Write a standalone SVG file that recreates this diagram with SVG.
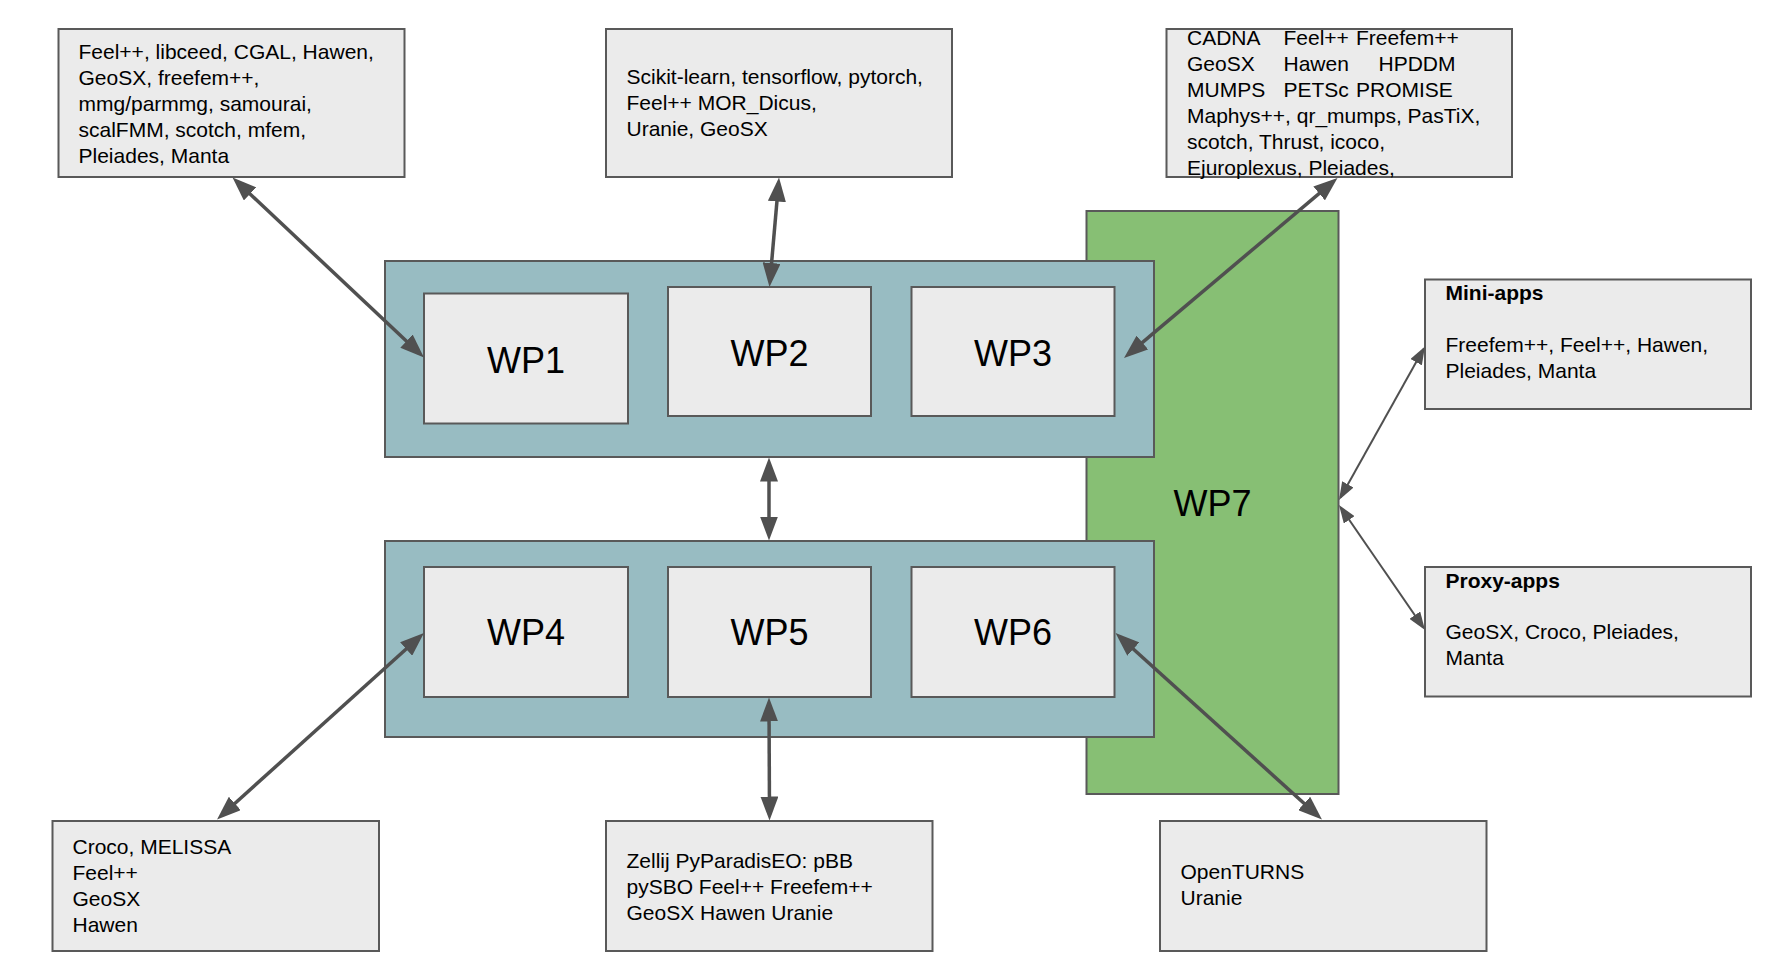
<svg xmlns="http://www.w3.org/2000/svg" width="1790" height="975" viewBox="0 0 1790 975">
<defs>
<style>
.box{fill:#ebebeb;stroke:#595959;stroke-width:2}
.cont{fill:#98bcc2;stroke:#595959;stroke-width:2}
.green{fill:#87bf74;stroke:#595959;stroke-width:2}
.t{font-family:"Liberation Sans",Arial,sans-serif;font-size:21px;fill:#000}
.b{font-weight:bold}
.wp{font-family:"Liberation Sans",Arial,sans-serif;font-size:36px;fill:#000;text-anchor:middle}
.thick{stroke:#505050;stroke-width:3.5;fill:none;marker-start:url(#ah);marker-end:url(#ah)}
.thin{stroke:#505050;stroke-width:2;fill:none;marker-start:url(#as);marker-end:url(#as)}
</style>
<marker id="ah" viewBox="0 0 24 18" markerWidth="24" markerHeight="18" refX="18" refY="9" markerUnits="userSpaceOnUse" orient="auto-start-reverse">
<path d="M0,0 L24,9 L0,18 z" fill="#505050"/>
</marker>
<marker id="as" viewBox="0 0 18 13" markerWidth="18" markerHeight="13" refX="15" refY="6.5" markerUnits="userSpaceOnUse" orient="auto-start-reverse">
<path d="M0,0 L18,6.5 L0,13 z" fill="#505050"/>
</marker>
</defs>
<rect width="1790" height="975" fill="#ffffff"/>

<g id="wp7">
<rect class="green" x="1086.5" y="211" width="252" height="583"/>
<text class="wp" x="1212.5" y="515.5">WP7</text>
</g>

<g id="group-top">
<rect class="cont" x="385" y="261" width="769" height="196"/>
</g>
<g id="wp1">
<rect class="box" x="424" y="293.5" width="204" height="130"/>
<text class="wp" x="526" y="372.5">WP1</text>
</g>
<g id="wp2">
<rect class="box" x="668" y="287" width="203" height="129"/>
<text class="wp" x="769.5" y="365.5">WP2</text>
</g>
<g id="wp3">
<rect class="box" x="911.5" y="287" width="203" height="129"/>
<text class="wp" x="1013" y="365.5">WP3</text>
</g>

<g id="group-bottom">
<rect class="cont" x="385" y="541" width="769" height="196"/>
</g>
<g id="wp4">
<rect class="box" x="424" y="567" width="204" height="130"/>
<text class="wp" x="526" y="645">WP4</text>
</g>
<g id="wp5">
<rect class="box" x="668" y="567" width="203" height="130"/>
<text class="wp" x="769.5" y="645">WP5</text>
</g>
<g id="wp6">
<rect class="box" x="911.5" y="567" width="203" height="130"/>
<text class="wp" x="1013" y="645">WP6</text>
</g>

<g id="libs-wp1">
<rect class="box" x="58.5" y="29" width="346" height="148"/>
<text class="t" x="78.5" y="58.5">Feel++, libceed, CGAL, Hawen,</text>
<text class="t" x="78.5" y="84.5">GeoSX, freefem++,</text>
<text class="t" x="78.5" y="110.5">mmg/parmmg, samourai,</text>
<text class="t" x="78.5" y="136.5">scalFMM, scotch, mfem,</text>
<text class="t" x="78.5" y="162.5">Pleiades, Manta</text>
</g>

<g id="libs-wp2">
<rect class="box" x="606" y="29" width="346" height="148"/>
<text class="t" x="626.5" y="83.5">Scikit-learn, tensorflow, pytorch,</text>
<text class="t" x="626.5" y="109.5">Feel++ MOR_Dicus,</text>
<text class="t" x="626.5" y="135.5">Uranie, GeoSX</text>
</g>

<g id="libs-wp3">
<rect class="box" x="1166.5" y="29" width="345.5" height="148"/>
<text class="t" y="44.5"><tspan x="1187">CADNA</tspan><tspan x="1283.5">Feel++</tspan><tspan x="1356">Freefem++</tspan></text>
<text class="t" y="70.5"><tspan x="1187">GeoSX</tspan><tspan x="1283.5">Hawen</tspan><tspan x="1378.5">HPDDM</tspan></text>
<text class="t" y="96.5"><tspan x="1187">MUMPS</tspan><tspan x="1283.5">PETSc</tspan><tspan x="1356">PROMISE</tspan></text>
<text class="t" x="1187" y="122.5">Maphys++, qr_mumps, PasTiX,</text>
<text class="t" x="1187" y="148.5">scotch, Thrust, icoco,</text>
<text class="t" x="1187" y="174.5">Ejuroplexus, Pleiades,</text>
</g>

<g id="mini-apps">
<rect class="box" x="1425" y="279.5" width="326" height="129.5"/>
<text class="t b" x="1445.5" y="300">Mini-apps</text>
<text class="t" x="1445.5" y="352">Freefem++, Feel++, Hawen,</text>
<text class="t" x="1445.5" y="378">Pleiades, Manta</text>
</g>

<g id="proxy-apps">
<rect class="box" x="1425" y="567" width="326" height="129.5"/>
<text class="t b" x="1445.5" y="587.5">Proxy-apps</text>
<text class="t" x="1445.5" y="638.5">GeoSX, Croco, Pleiades,</text>
<text class="t" x="1445.5" y="664.5">Manta</text>
</g>

<g id="libs-wp4">
<rect class="box" x="52.5" y="821" width="326.5" height="130"/>
<text class="t" x="72.5" y="853.5">Croco, MELISSA</text>
<text class="t" x="72.5" y="879.5">Feel++</text>
<text class="t" x="72.5" y="905.5">GeoSX</text>
<text class="t" x="72.5" y="931.5">Hawen</text>
</g>

<g id="libs-wp5">
<rect class="box" x="606" y="821" width="326.5" height="130"/>
<text class="t" x="626.5" y="867.5">Zellij PyParadisEO: pBB</text>
<text class="t" x="626.5" y="893.5">pySBO Feel++ Freefem++</text>
<text class="t" x="626.5" y="919.5">GeoSX Hawen Uranie</text>
</g>

<g id="libs-wp6">
<rect class="box" x="1160" y="821" width="326.5" height="130"/>
<text class="t" x="1180.5" y="879">OpenTURNS</text>
<text class="t" x="1180.5" y="905">Uranie</text>
</g>

<g id="connectors">
<line class="thick" x1="236.9" y1="181.6" x2="419.6" y2="353.4"/>
<line class="thick" x1="778.5" y1="183.5" x2="770" y2="281"/>
<line class="thick" x1="1332.9" y1="181.9" x2="1128.6" y2="354.1"/>
<line class="thick" x1="769" y1="463.5" x2="769" y2="534.5"/>
<line class="thick" x1="419.5" y1="637" x2="221.5" y2="815.5"/>
<line class="thick" x1="769" y1="703.5" x2="769.5" y2="814.5"/>
<line class="thick" x1="1120" y1="637" x2="1317.5" y2="815.5"/>
<line class="thin" x1="1340.5" y1="497.4" x2="1423.5" y2="349.1"/>
<line class="thin" x1="1340.7" y1="507.5" x2="1423.3" y2="627.5"/>
</g>
</svg>
